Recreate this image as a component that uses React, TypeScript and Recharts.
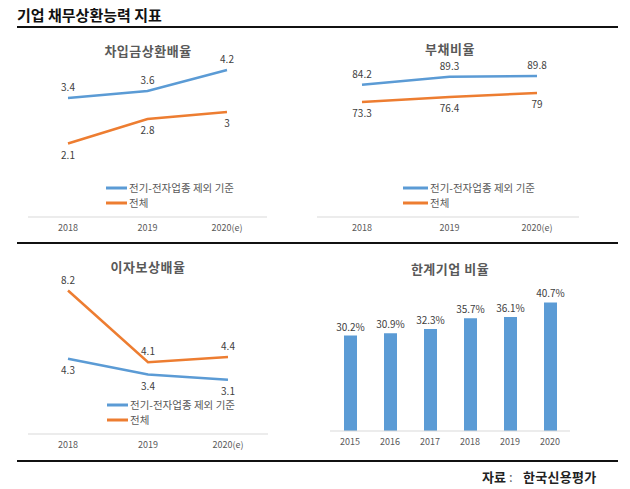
import {
  LineChart,
  Line,
  BarChart,
  Bar,
  XAxis,
  YAxis,
  Legend,
  LabelList,
} from "recharts";

// 기업 채무상환능력 지표 (자료: 한국신용평가)

const YEARS = ["2018", "2019", "2020(e)"];
const SERIES_EX = "전기-전자업종 제외 기준";
const SERIES_ALL = "전체";

// 차입금상환배율
const repayEx = [3.4, 3.6, 4.2];
const repayAll = [2.1, 2.8, 3];

// 부채비율
const debtEx = [84.2, 89.3, 89.8];
const debtAll = [73.3, 76.4, 79];

// 이자보상배율
const icrEx = [4.3, 3.4, 3.1];
const icrAll = [8.2, 4.1, 4.4];

// 한계기업 비율
const zombieYears = ["2015", "2016", "2017", "2018", "2019", "2020"];
const zombieShare = [30.2, 30.9, 32.3, 35.7, 36.1, 40.7];

const FONT = "'Noto Sans CJK KR', 'Noto Sans', sans-serif";
const BLUE = "#5b9bd5";
const ORANGE = "#ed7d31";
const AXIS = "#d9d9d9";
const TICK = "#595959";
const LABEL = "#404040";

const toRows = (ex: number[], all: number[]) =>
  YEARS.map((year, i) => ({ year, ex: ex[i], all: all[i] }));

const zombieRows = zombieYears.map((year, i) => ({ year, share: zombieShare[i] }));

/** Legend: short coloured line + name, one per row. */
const legendContent = (lineWidth: number) => (props: any) => (
  <div style={{ fontFamily: FONT }}>
    {(props.payload || []).map((item: any) => (
      <div key={item.value} style={{ display: "flex", alignItems: "center", height: 15 }}>
        <svg width={lineWidth} height={4} style={{ display: "block" }}>
          <line x1={0} y1={2} x2={lineWidth} y2={2} stroke={item.color} strokeWidth={3} />
        </svg>
        <span style={{ marginLeft: 2, fontSize: 10.5, color: TICK, lineHeight: "15px" }}>
          {item.value}
        </span>
      </div>
    ))}
  </div>
);

interface LinePanelProps {
  left: number;
  top: number;
  height: number;
  margin: { top: number; right: number; bottom: number; left: number };
  xPad: { left: number; right: number };
  xAxisHeight: number;
  domain: [number, number];
  rows: { year: string; ex: number; all: number }[];
  exOnTop: boolean;
  legendPos: { left: number; top: number };
  legendLine: number;
}

function LinePanel(p: LinePanelProps) {
  return (
    <div style={{ position: "absolute", left: p.left, top: p.top }}>
      <LineChart width={315} height={p.height} data={p.rows} margin={p.margin} style={{ fontFamily: FONT }}>
        <XAxis
          dataKey="year"
          axisLine={{ stroke: AXIS }}
          tickLine={false}
          tick={{ fontSize: 9, fill: TICK }}
          height={p.xAxisHeight}
          padding={p.xPad}
          interval={0}
        />
        <YAxis hide domain={p.domain} />
        <Legend
          layout="vertical"
          align="center"
          verticalAlign="middle"
          wrapperStyle={{ left: p.legendPos.left, top: p.legendPos.top, width: "auto" }}
          content={legendContent(p.legendLine)}
        />
        <Line
          type="linear"
          dataKey="ex"
          name={SERIES_EX}
          stroke={BLUE}
          strokeWidth={2.5}
          dot={false}
          isAnimationActive={false}
        >
          <LabelList
            dataKey="ex"
            position={p.exOnTop ? "top" : "bottom"}
            offset={p.exOnTop ? 7 : 8}
            fill={LABEL}
            fontSize={10}
          />
        </Line>
        <Line
          type="linear"
          dataKey="all"
          name={SERIES_ALL}
          stroke={ORANGE}
          strokeWidth={2.5}
          dot={false}
          isAnimationActive={false}
        >
          <LabelList
            dataKey="all"
            position={p.exOnTop ? "bottom" : "top"}
            offset={p.exOnTop ? 8 : 7}
            fill={LABEL}
            fontSize={10}
          />
        </Line>
      </LineChart>
    </div>
  );
}

function PanelTitle({ text, cx, cy }: { text: string; cx: number; cy: number }) {
  return (
    <div
      style={{
        position: "absolute",
        left: cx - 100,
        top: cy - 8,
        width: 200,
        height: 16,
        lineHeight: "16px",
        textAlign: "center",
        fontFamily: FONT,
        fontWeight: 700,
        fontSize: 13,
        letterSpacing: 0.5,
        color: TICK,
      }}
    >
      {text}
    </div>
  );
}

function Rule({ top }: { top: number }) {
  return (
    <div style={{ position: "absolute", left: 17, top, width: 601, height: 2, background: "#111" }} />
  );
}

const sourceStyle = {
  position: "absolute" as const,
  top: 469,
  fontSize: 13,
  fontWeight: 700,
  color: "#222",
  lineHeight: "16px",
  whiteSpace: "pre" as const,
};

export default function App() {
  return (
    <div
      style={{
        position: "absolute",
        left: 0,
        top: 0,
        width: 630,
        height: 489,
        background: "#fff",
        overflow: "hidden",
        fontFamily: FONT,
      }}
    >
      <div
        style={{
          position: "absolute",
          left: 17,
          top: 5,
          fontSize: 15,
          fontWeight: 700,
          color: "#111",
          lineHeight: "20px",
        }}
      >
        기업 채무상환능력 지표
      </div>
      <Rule top={26} />

      <LinePanel
        left={0}
        top={27}
        height={216}
        margin={{ top: 15, right: 48, bottom: 0, left: 28 }}
        xPad={{ left: 40, right: 40 }}
        xAxisHeight={26}
        domain={[0, 5]}
        rows={toRows(repayEx, repayAll)}
        exOnTop
        legendPos={{ left: 106, top: 153 }}
        legendLine={21}
      />
      <PanelTitle text="차입금상환배율" cx={148} cy={51} />

      <LinePanel
        left={315}
        top={27}
        height={216}
        margin={{ top: 33, right: 51, bottom: 0, left: 2 }}
        xPad={{ left: 45, right: 42 }}
        xAxisHeight={26}
        domain={[0, 100]}
        rows={toRows(debtEx, debtAll)}
        exOnTop
        legendPos={{ left: 88, top: 153 }}
        legendLine={25}
      />
      <PanelTitle text="부채비율" cx={450} cy={49} />

      <Rule top={242} />

      <LinePanel
        left={0}
        top={243}
        height={218}
        margin={{ top: 16, right: 47, bottom: 0, left: 28 }}
        xPad={{ left: 40, right: 40 }}
        xAxisHeight={27}
        domain={[0, 10]}
        rows={toRows(icrEx, icrAll)}
        exOnTop={false}
        legendPos={{ left: 107, top: 154 }}
        legendLine={21}
      />
      <PanelTitle text="이자보상배율" cx={148} cy={267} />

      <div style={{ position: "absolute", left: 315, top: 243 }}>
        <BarChart
          width={315}
          height={218}
          data={zombieRows}
          margin={{ top: 30, right: 60, bottom: 0, left: 15 }}
          style={{ fontFamily: FONT }}
        >
          <XAxis
            dataKey="year"
            axisLine={{ stroke: AXIS }}
            tickLine={false}
            tick={{ fontSize: 9, fill: TICK }}
            height={30}
            interval={0}
          />
          <YAxis hide domain={[0, 50]} />
          <Bar dataKey="share" fill={BLUE} barSize={13} isAnimationActive={false}>
            <LabelList
              dataKey="share"
              position="top"
              offset={5}
              fill={LABEL}
              fontSize={10}
              formatter={(v: any) => `${v}%`}
            />
          </Bar>
        </BarChart>
      </div>
      <PanelTitle text="한계기업 비율" cx={450} cy={269} />

      <Rule top={460} />
      <div style={{ ...sourceStyle, left: 482 }}>자료</div>
      <div style={{ ...sourceStyle, left: 509, fontWeight: 400, color: "#666" }}>:</div>
      <div style={{ ...sourceStyle, left: 523, letterSpacing: 0.3 }}>한국신용평가</div>
    </div>
  );
}
